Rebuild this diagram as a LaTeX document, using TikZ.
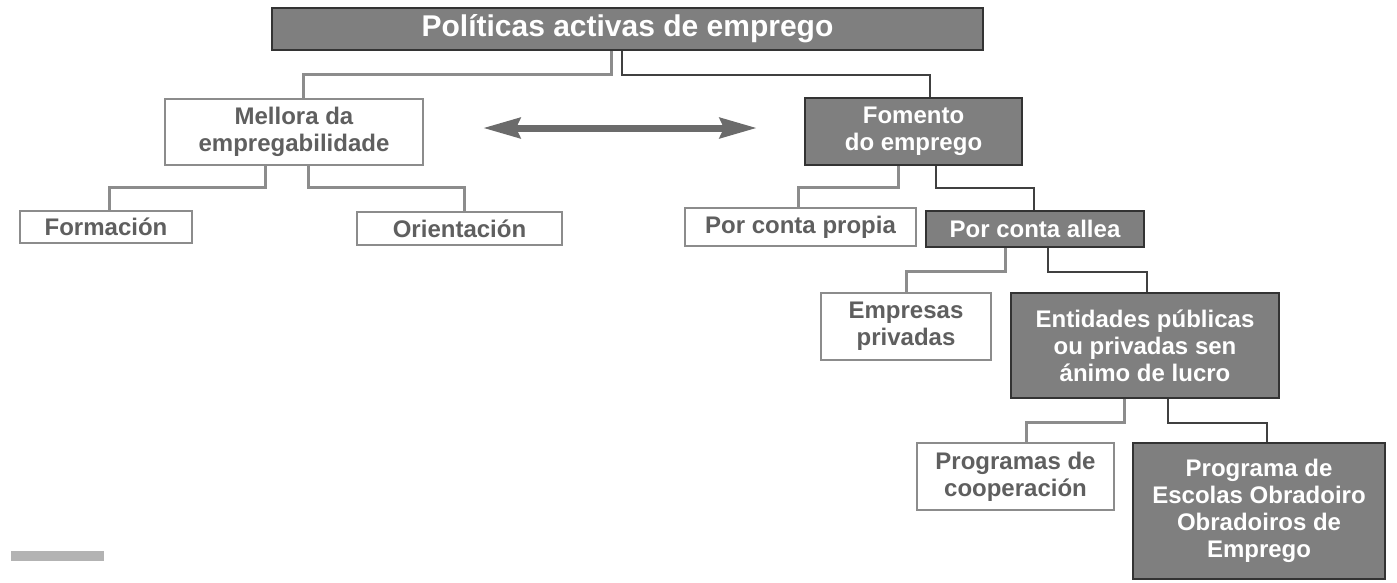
\documentclass[tikz,border=0pt]{standalone}
\usepackage{fontspec}
\setmainfont{Liberation Sans}
\usepackage{tikz}
\usetikzlibrary{arrows.meta,positioning}
\definecolor{boxfill}{HTML}{7F7F7F}
\definecolor{boxedge}{HTML}{333333}
\definecolor{lightedge}{HTML}{8C8C8C}
\definecolor{lighttext}{HTML}{5F5F5F}
\definecolor{linedark}{HTML}{404040}
\definecolor{barfill}{HTML}{B3B3B3}
\definecolor{arrowgray}{HTML}{6B6B6B}
\newcommand{\boxfont}{\fontsize{24}{27}\selectfont\bfseries}
\newcommand{\headfont}{\fontsize{30}{34}\selectfont\bfseries}

\tikzset{
  darkbox/.style={draw=boxedge, fill=boxfill, line width=1.6pt, text=white, font=\boxfont, align=center, inner sep=0pt},
  lightbox/.style={draw=lightedge, fill=white, line width=1.8pt, text=lighttext, font=\boxfont, align=center, inner sep=0pt},
  lightline/.style={draw=lightedge, line width=3pt},
  darkline/.style={draw=linedark, line width=2.6pt}
}

\begin{document}
\begin{tikzpicture}[x=1pt,y=-1pt]
  \useasboundingbox (0,0) rectangle (1397,582);
  % boxes
  \node[darkbox, minimum width=711pt, minimum height=42pt, font=\headfont] (pol) at (627.5,29) {Políticas activas de emprego};
  \node[lightbox, minimum width=258pt, minimum height=66pt] (mel) at (294,132) {Mellora da\\empregabilidade};
  \node[darkbox, minimum width=217pt, minimum height=67pt] (fom) at (913.5,131.5) {Fomento\\do emprego};
  \node[lightbox, minimum width=172pt, minimum height=32pt] (form) at (106,227) {Formación};
  \node[lightbox, minimum width=205pt, minimum height=33pt] (ori) at (459.5,228.5) {Orientación};
  \node[lightbox, minimum width=231pt, minimum height=38pt] (prop) at (800.5,227) {Por conta propia};
  \node[darkbox, minimum width=218pt, minimum height=36pt] (allea) at (1035,229) {Por conta allea};
  \node[lightbox, minimum width=170pt, minimum height=67pt] (emp) at (906,326.5) {Empresas\\privadas};
  \node[darkbox, minimum width=268pt, minimum height=105pt] (ent) at (1145,345.5) {Entidades públicas\\ou privadas sen\\ánimo de lucro};
  \node[lightbox, minimum width=197pt, minimum height=67pt] (coop) at (1015.5,476.5) {Programas de\\cooperación};
  \node[darkbox, minimum width=252pt, minimum height=136pt] (esc) at (1259,511) {Programa de\\Escolas Obradoiro\\Obradoiros de\\Emprego};
  % connectors
  \draw[lightline] ([xshift=-16.5pt]pol.south) -- ++(0,24) -| ([xshift=9pt]mel.north);
  \draw[darkline] ([xshift=-5.5pt]pol.south) -- ++(0,24) -| ([xshift=16.5pt]fom.north);
  \draw[lightline] ([xshift=-29pt]mel.south) -- ++(0,22) -| ([xshift=3pt]form.north);
  \draw[lightline] ([xshift=14pt]mel.south) -- ++(0,22) -| ([xshift=4.5pt]ori.north);
  \draw[lightline] ([xshift=-15.5pt]fom.south) -- ++(0,22) -| ([xshift=-2.5pt]prop.north);
  \draw[darkline] ([xshift=22.5pt]fom.south) -- ++(0,22) -| ([xshift=-1pt]allea.north);
  \draw[lightline] ([xshift=-30pt]allea.south) -- ++(0,24) -| (emp.north);
  \draw[darkline] ([xshift=13pt]allea.south) -- ++(0,24) -| ([xshift=2pt]ent.north);
  \draw[lightline] ([xshift=-21pt]ent.south) -- ++(0,24) -| ([xshift=10.5pt]coop.north);
  \draw[darkline] ([xshift=23pt]ent.south) -- ++(0,24) -| ([xshift=8pt]esc.north);
  % double arrow
  \coordinate (arrL) at (483,128);
  \coordinate (arrR) at (757,128);
  \draw[arrowgray, line width=7pt, {Stealth[length=37pt,width=20pt,inset=4pt]}-{Stealth[length=37pt,width=20pt,inset=4pt]}] (arrL) -- (arrR);
  % bar
  \fill[barfill] (11,551) rectangle (104,561);
\end{tikzpicture}
\end{document}
